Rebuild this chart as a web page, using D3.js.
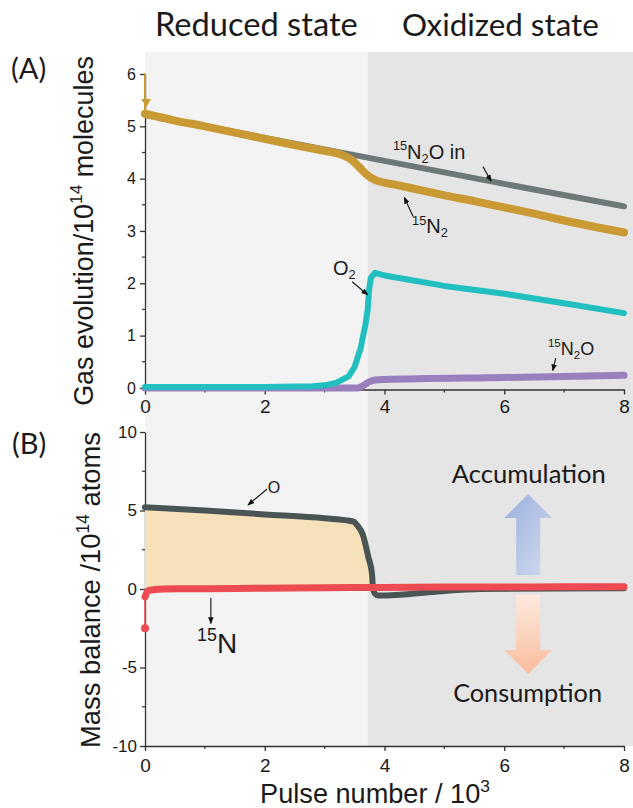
<!DOCTYPE html>
<html>
<head>
<meta charset="utf-8">
<script src="https://cdn.jsdelivr.net/npm/d3@7"></script>
<style>
  html, body { margin: 0; padding: 0; background: #ffffff; }
  svg { display: block; }
</style>
</head>
<body>
<svg id="chart" width="633" height="808"></svg>
<script>
// ---------------- DATA ----------------
// x values are pulse number / 10^3
const xTicksMajor = [0, 2, 4, 6, 8];
const xTicksMinor = [1, 3, 5, 7];
const yTicksA = [0, 1, 2, 3, 4, 5, 6];
const yTicksAMinor = [0.5, 1.5, 2.5, 3.5, 4.5, 5.5];
const yTicksB = [-10, -5, 0, 5, 10];
const yTicksBMinor = [-7.5, -2.5, 2.5, 7.5];
const stateSplit = 3.72;               // boundary between reduced / oxidized state
const stateLabels = ["Reduced state", "Oxidized state"];

// Panel A: gas evolution / 10^14 molecules
const n2oInPoints = [[0, 5.22], [2, 4.78], [4, 4.34], [6, 3.90], [8, 3.47]];
const n2Spike = [[0, 6.0], [0, 5.3]];
const n2Points = [[0, 5.24], [0.5, 5.11], [1, 5.0], [1.5, 4.88], [2, 4.76], [2.5, 4.64], [3, 4.53],
  [3.3, 4.45], [3.45, 4.36], [3.58, 4.22], [3.7, 4.08], [3.85, 3.97], [4.2, 3.88], [4.6, 3.78],
  [5, 3.68], [5.5, 3.57], [6, 3.45], [6.5, 3.33], [7, 3.2], [7.5, 3.08], [8, 2.97]];
const o2Points = [[0, 0.02], [1, 0.02], [2, 0.02], [2.8, 0.03], [3.0, 0.05], [3.2, 0.1], [3.4, 0.22],
  [3.5, 0.4], [3.6, 0.75], [3.68, 1.2], [3.72, 1.5], [3.74, 1.85], [3.77, 2.1], [3.84, 2.2],
  [4, 2.15], [5, 1.95], [6, 1.8], [7, 1.62], [8, 1.43]];
const n2oPoints = [[0, 0], [3.55, 0], [3.65, 0.05], [3.75, 0.12], [3.85, 0.15], [4, 0.16],
  [6, 0.2], [8, 0.24]];

// Panel B: mass balance / 10^14 atoms
const oBalance = [[0, 5.2], [1, 5.0], [2, 4.75], [3, 4.5], [3.48, 4.3], [3.54, 4.08], [3.64, 3.44],
  [3.73, 2.04], [3.79, 1.0], [3.81, 0], [3.84, -0.3], [3.9, -0.42], [4.2, -0.38], [4.6, -0.25],
  [5, -0.12], [5.3, -0.05], [5.6, 0], [8, 0.05]];
const nDrop = [[0, -2.5], [0, -0.5]];
const nBalance = [[0, -0.5], [0.05, -0.1], [0.3, 0.0], [1, 0.02], [2, 0.05], [3, 0.08], [4, 0.1],
  [5, 0.12], [6, 0.13], [7, 0.14], [8, 0.15]];
const nFirstPoint = [[0, -2.5]];

// ---------------- LAYOUT ----------------
const svg = d3.select("#chart");
const W = 633;
const x = d3.scaleLinear().domain([0, 8]).range([145, 624]);
const yA = d3.scaleLinear().domain([-0.03, 6]).range([389.5, 74]);
const yB = d3.scaleLinear().domain([-10, 10]).range([746, 432]);
const bgTop = 52, bgBottom = 746;

const C = {
  gold: "#c99a33", grey: "#6f7878", teal: "#22bfc0", purple: "#9a7fbf",
  dark: "#4b5454", red: "#ee4a52", fill: "#f6e1bb",
  bgLight: "#f3f3f3", bgDark: "#e5e5e5", axis: "#333333", text: "#1a1a1a"
};
const ARIAL = "'Liberation Sans', Arial, sans-serif";
const CALIBRI = "Lato, 'Open Sans', sans-serif";

function fit(sel, width) {
  const L = sel.node().getComputedTextLength();
  const fs = parseFloat(sel.attr("font-size"));
  sel.attr("font-size", fs * width / L);
  return sel;
}

// rich text: parts [{t, s:'sup'|'sub'}]
function rich(parent, parts, attrs) {
  const t = parent.append("text");
  Object.entries(attrs).forEach(([k, v]) => t.attr(k, v));
  let cur = 0;
  parts.forEach(p => {
    const scale = p.s ? 0.64 : 1;
    const target = p.s === "sup" ? -0.42 : p.s === "sub" ? 0.22 : 0;
    const delta = target - cur;
    cur = target;
    const ts = t.append("tspan").text(p.t).attr("font-size", scale === 1 ? "1em" : scale + "em");
    if (Math.abs(delta) > 1e-6) ts.attr("dy", (delta / scale).toFixed(3) + "em");
  });
  return t;
}

// arrow marker
const defs = svg.append("defs");
defs.append("marker").attr("id", "ah").attr("viewBox", "0 0 10 8")
  .attr("refX", 9).attr("refY", 4).attr("markerWidth", 7).attr("markerHeight", 6)
  .attr("markerUnits", "userSpaceOnUse").attr("orient", "auto")
  .append("path").attr("d", "M0,0 L10,4 L0,8 Z").attr("fill", "#111");

const gBlue = defs.append("linearGradient").attr("id", "gBlue")
  .attr("x1", "0").attr("y1", "0").attr("x2", "1").attr("y2", "1");
gBlue.append("stop").attr("offset", "0").attr("stop-color", "#9aaedd");
gBlue.append("stop").attr("offset", "1").attr("stop-color", "#d3dcf0");
const gOrange = defs.append("linearGradient").attr("id", "gOrange")
  .attr("x1", "0").attr("y1", "0").attr("x2", "0").attr("y2", "1");
gOrange.append("stop").attr("offset", "0").attr("stop-color", "#fde9de");
gOrange.append("stop").attr("offset", "1").attr("stop-color", "#f8bd9c");

// ---------------- BACKGROUND ----------------
svg.append("rect").attr("x", x(0)).attr("y", bgTop)
  .attr("width", x(stateSplit) - x(0)).attr("height", bgBottom - bgTop).attr("fill", C.bgLight);
svg.append("rect").attr("x", x(stateSplit)).attr("y", bgTop)
  .attr("width", W - x(stateSplit)).attr("height", bgBottom - bgTop).attr("fill", C.bgDark);

// header labels
[[0, stateSplit], [stateSplit, 8.4]].forEach((r, i) => {
  const t = svg.append("text").text(stateLabels[i])
    .attr("x", (x(r[0]) + Math.min(W, x(r[1]))) / 2).attr("y", 36)
    .attr("text-anchor", "middle").attr("font-family", CALIBRI).attr("font-size", 30)
    .attr("fill", C.text);
  fit(t, i === 0 ? 203 : 197);
});

// panel labels
svg.append("text").text("(A)").attr("x", 11).attr("y", 79)
  .attr("font-family", CALIBRI).attr("font-size", 29).attr("fill", C.text);
svg.append("text").text("(B)").attr("x", 12).attr("y", 454)
  .attr("font-family", CALIBRI).attr("font-size", 29).attr("fill", C.text);

// ---------------- AXES ----------------
const fmt = d3.format("d");
function styleAxis(g, fs) {
  g.selectAll("path.domain").attr("stroke", C.axis).attr("stroke-width", 1.3);
  g.selectAll(".tick line").attr("stroke", C.axis).attr("stroke-width", 1.3);
  g.selectAll(".tick text").attr("font-family", ARIAL).attr("font-size", fs).attr("fill", C.text);
}
function minorY(g, scale, vals) {
  g.selectAll("line.minor").data(vals).join("line").attr("class", "minor")
    .attr("x1", 0).attr("x2", -3).attr("y1", d => scale(d)).attr("y2", d => scale(d))
    .attr("stroke", C.axis).attr("stroke-width", 1.2);
}
function minorX(g, vals) {
  g.selectAll("line.minor").data(vals).join("line").attr("class", "minor")
    .attr("y1", 0).attr("y2", 3).attr("x1", d => x(d)).attr("x2", d => x(d))
    .attr("stroke", C.axis).attr("stroke-width", 1.2);
}

// Panel A axes
const axAY = svg.append("g").attr("transform", `translate(${x(0)},0)`)
  .call(d3.axisLeft(yA).tickValues(yTicksA).tickFormat(fmt).tickSize(5).tickSizeOuter(0).tickPadding(4));
styleAxis(axAY, 16); minorY(axAY, yA, yTicksAMinor);
const axAX = svg.append("g").attr("transform", `translate(0,${yA.range()[0]})`)
  .call(d3.axisBottom(x).tickValues(xTicksMajor).tickFormat(fmt).tickSize(5).tickSizeOuter(0).tickPadding(5));
styleAxis(axAX, 19); minorX(axAX, xTicksMinor);

// Panel B axes
const axBY = svg.append("g").attr("transform", `translate(${x(0)},0)`)
  .call(d3.axisLeft(yB).tickValues(yTicksB).tickFormat(fmt).tickSize(5).tickSizeOuter(0).tickPadding(3));
styleAxis(axBY, 17); minorY(axBY, yB, yTicksBMinor);
const axBX = svg.append("g").attr("transform", `translate(0,${yB.range()[0]})`)
  .call(d3.axisBottom(x).tickValues(xTicksMajor).tickFormat(fmt).tickSize(5).tickSizeOuter(0).tickPadding(8));
styleAxis(axBX, 19); minorX(axBX, xTicksMinor);
// hyphen-minus like the reference
axBY.selectAll(".tick text").text(d => String(d));

// axis titles
const tA = rich(svg.append("g").attr("transform", "translate(93,231) rotate(-90)"),
  [{ t: "Gas evolution/10" }, { t: "14", s: "sup" }, { t: " molecules" }],
  { "text-anchor": "middle", "font-family": ARIAL, "font-size": 23, fill: C.text });
fit(tA, 350);
const tB = rich(svg.append("g").attr("transform", "translate(100,590) rotate(-90)"),
  [{ t: "Mass balance /10" }, { t: "14", s: "sup" }, { t: " atoms" }],
  { "text-anchor": "middle", "font-family": ARIAL, "font-size": 24, fill: C.text });
fit(tB, 316);
const tX = rich(svg.append("g").attr("transform", "translate(375,803)"),
  [{ t: "Pulse number / 10" }, { t: "3", s: "sup" }],
  { "text-anchor": "middle", "font-family": ARIAL, "font-size": 25, fill: C.text });
fit(tX, 230);

// ---------------- PANEL A SERIES ----------------
const lineA = d3.line().x(d => x(d[0])).y(d => yA(d[1])).curve(d3.curveMonotoneX);
const lineA2 = d3.line().x(d => x(d[0])).y(d => yA(d[1]));
const gA = svg.append("g").attr("fill", "none").attr("stroke-linecap", "round").attr("stroke-linejoin", "round");
gA.append("path").datum(n2oInPoints).attr("d", lineA).attr("stroke", C.grey).attr("stroke-width", 6);
gA.append("path").datum(n2Spike).attr("d", lineA2).attr("stroke", C.gold).attr("stroke-width", 2);
gA.append("path").datum(n2Points).attr("d", lineA).attr("stroke", C.gold).attr("stroke-width", 8);
gA.append("path").datum(n2oPoints).attr("d", lineA).attr("stroke", C.purple).attr("stroke-width", 7);
gA.append("path").datum(o2Points).attr("d", lineA2).attr("stroke", C.teal).attr("stroke-width", 6);
// small marker at the start of the 15N2 trace
gA.append("path").datum([[0.02, 5.47]])
  .attr("d", d => d3.symbol(d3.symbolTriangle, 40)())
  .attr("transform", d => `translate(${x(d[0][0])},${yA(d[0][1])}) rotate(180)`)
  .attr("fill", C.gold).attr("stroke", "none");

// ---------------- PANEL B SERIES ----------------
const lineB = d3.line().x(d => x(d[0])).y(d => yB(d[1]));
const areaB = d3.area().x(d => x(d[0])).y0(yB(0)).y1(d => yB(d[1]));
const gB = svg.append("g").attr("fill", "none").attr("stroke-linecap", "round").attr("stroke-linejoin", "round");
const fillPts = oBalance.filter(d => d[0] <= 3.81);
gB.append("path").datum(fillPts).attr("d", areaB).attr("fill", C.fill).attr("stroke", "none");
gB.append("path").datum(oBalance).attr("d", lineB.curve(d3.curveMonotoneX)).attr("stroke", C.dark).attr("stroke-width", 6);
const lineBs = d3.line().x(d => x(d[0])).y(d => yB(d[1]));
gB.append("path").datum(nDrop).attr("d", lineBs).attr("stroke", C.red).attr("stroke-width", 1.6);
gB.append("path").datum(nBalance).attr("d", lineBs.curve(d3.curveMonotoneX)).attr("stroke", C.red).attr("stroke-width", 7);
gB.selectAll("circle.n").data(nFirstPoint).join("circle").attr("class", "n")
  .attr("cx", d => x(d[0])).attr("cy", d => yB(d[1])).attr("r", 4).attr("fill", C.red);

// ---------------- ANNOTATIONS ----------------
const annA = [
  { parts: [{ t: "15", s: "sup" }, { t: "N" }, { t: "2", s: "sub" }, { t: "O in" }], tx: 4.14, ty: 4.38, from: [5.645, 4.23], to: [5.78, 3.95], fs: 20 },
  { parts: [{ t: "15", s: "sup" }, { t: "N" }, { t: "2", s: "sub" }], tx: 4.46, ty: 2.96, from: [4.48, 3.27], to: [4.33, 3.64], fs: 20 },
  { parts: [{ t: "O" }, { t: "2", s: "sub" }], tx: 3.14, ty: 2.16, from: [3.46, 2.03], to: [3.72, 1.78], fs: 20 },
  { parts: [{ t: "15", s: "sup" }, { t: "N" }, { t: "2", s: "sub" }, { t: "O" }], tx: 6.73, ty: 0.63, from: [6.86, 0.57], to: [6.81, 0.33], fs: 18 }
];
const annB = [
  { parts: [{ t: "O" }], tx: 2.05, ty: 6.12, from: [2.04, 6.37], to: [1.72, 5.35], fs: 16 },
  { parts: [{ t: "15", s: "sup" }, { t: "N" }], tx: 0.87, ty: -4.08, from: [1.1, -0.57], to: [1.1, -2.2], fs: 28 }
];
function drawAnn(list, ys) {
  list.forEach(a => {
    rich(svg, a.parts, { x: x(a.tx), y: ys(a.ty), "font-family": ARIAL, "font-size": a.fs, fill: C.text });
    svg.append("line").attr("x1", x(a.from[0])).attr("y1", ys(a.from[1]))
      .attr("x2", x(a.to[0])).attr("y2", ys(a.to[1]))
      .attr("stroke", "#111").attr("stroke-width", 1.1).attr("marker-end", "url(#ah)");
  });
}
drawAnn(annA, yA);
drawAnn(annB, yB);

// Accumulation / Consumption block arrows
const arrowX = 6.4;
const upArrow = { tip: 6.05, base: 4.52, end: 0.89 };
const downArrow = { tip: -5.41, base: -3.89, end: -0.38 };
function blockArrow(a, fill) {
  const cx = x(arrowX), hw = 24, sw = 12;
  const p = d3.path();
  p.moveTo(cx, yB(a.tip));
  p.lineTo(cx + hw, yB(a.base));
  p.lineTo(cx + sw, yB(a.base));
  p.lineTo(cx + sw, yB(a.end));
  p.lineTo(cx - sw, yB(a.end));
  p.lineTo(cx - sw, yB(a.base));
  p.lineTo(cx - hw, yB(a.base));
  p.closePath();
  svg.append("path").attr("d", p.toString()).attr("fill", fill);
}
blockArrow(upArrow, "url(#gBlue)");
blockArrow(downArrow, "url(#gOrange)");
const acc = svg.append("text").text("Accumulation").attr("x", x(6.41)).attr("y", yB(6.76))
  .attr("text-anchor", "middle").attr("font-family", CALIBRI).attr("font-size", 24).attr("fill", C.text);
fit(acc, 154);
const con = svg.append("text").text("Consumption").attr("x", x(6.39)).attr("y", yB(-7.2))
  .attr("text-anchor", "middle").attr("font-family", CALIBRI).attr("font-size", 24).attr("fill", C.text);
fit(con, 149);
</script>
</body>
</html>
